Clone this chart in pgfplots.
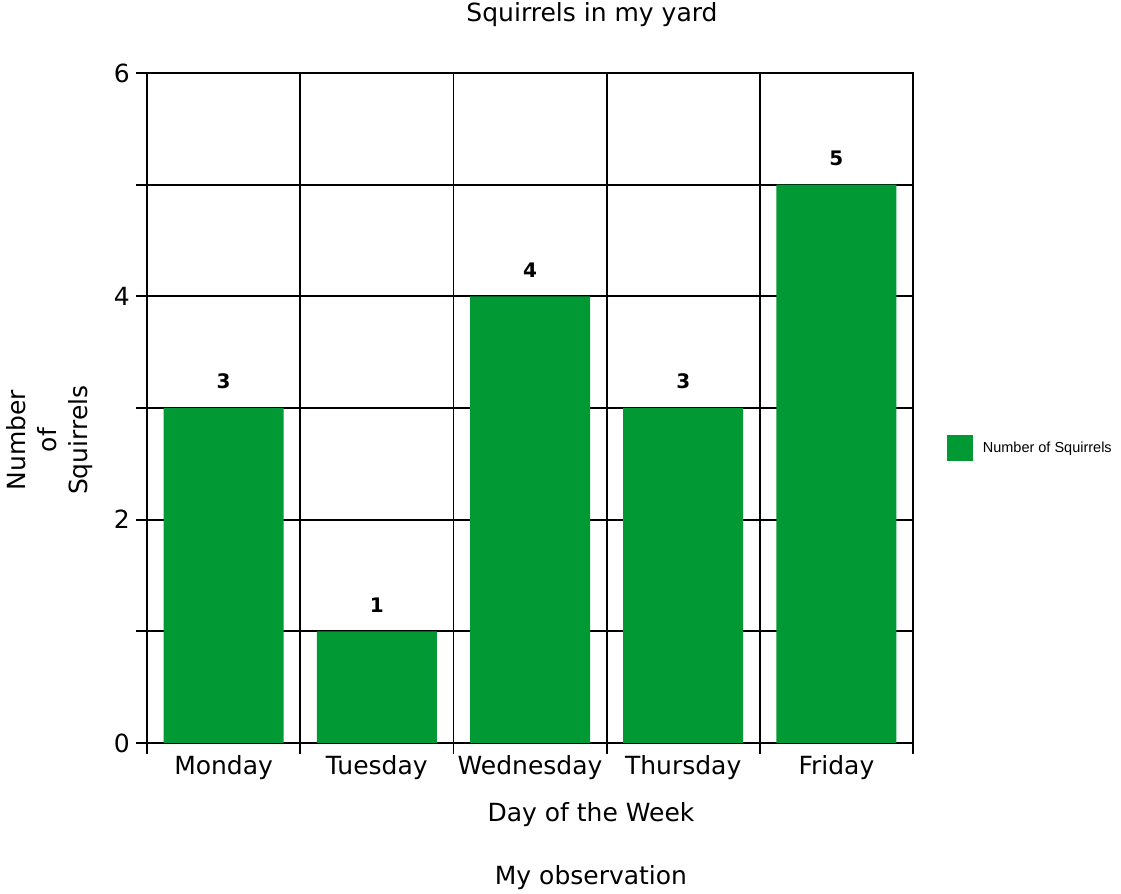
\documentclass[border=0pt]{standalone}
\usepackage{pgfplots}
\pgfplotsset{compat=1.18}
\usepackage{fontspec}
\setmainfont{DejaVu Sans}
\newfontfamily\legfont{Liberation Sans}
\definecolor{bargreen}{RGB}{0,153,51}
\begin{document}
\begin{tikzpicture}[x=1bp,y=1bp]
\useasboundingbox (0,0) rectangle (1121,894);
\begin{axis}[
  at={(147bp,151bp)}, anchor=south west,
  width=766bp, height=670bp, scale only axis,
  xmin=-0.5, xmax=4.5, ymin=0, ymax=6,
  /pgf/number format/assume math mode=true,
  font=\fontsize{25bp}{31bp}\selectfont,
  axis line style={line width=1.8bp, black},
  every tick/.style={line width=1.8bp, black},
  grid style={line width=1.8bp, black},
  major grid style={line width=1.8bp, black},
  tick align=outside, major tick length=11bp,
  xtick pos=bottom, ytick pos=left,
  xtick={-0.5,0.5,1.5,2.5,3.5,4.5}, xticklabels={},
  xmajorgrids,
  extra x ticks={0,1,2,3,4},
  extra x tick labels={Monday,Tuesday,Wednesday,Thursday,Friday},
  extra x tick style={major tick length=0pt, xmajorgrids=false,
     tick label style={inner sep=0pt, anchor=north, yshift=-12bp}},
  ytick={0,1,2,3,4,5,6}, yticklabels={0,,2,,4,,6},
  ymajorgrids,
  yticklabel style={inner sep=0pt, anchor=east, xshift=-6bp},
  ylabel={Number\\of\\Squirrels},
  ylabel style={align=center, at={(axis description cs:-0.127,0.452)}, anchor=center},
  legend style={at={(1.040,0.44)}, anchor=west, draw=none, fill=none,
     font=\legfont\fontsize{14.5bp}{16bp}\selectfont, legend cell align=left},
  nodes near coords,
  nodes near coords style={font=\bfseries\fontsize{20bp}{24bp}\selectfont, inner sep=0pt, anchor=south, yshift=19bp},
]
\addplot[ybar, bar width=120bp, bar shift=0pt, fill=bargreen, draw=none,
  legend image code/.code={\fill[bargreen] (0bp,-13bp) rectangle (26bp,13bp);}]
  coordinates {(0,3) (1,1) (2,4) (3,3) (4,5)};
\addlegendentry{\hspace{8bp}Number of Squirrels}
\end{axis}
\node[font=\fontsize{25bp}{31bp}\selectfont] at (592,879) {Squirrels in my yard};
\node[font=\fontsize{25bp}{31bp}\selectfont] at (591,79) {Day of the Week};
\node[font=\fontsize{25bp}{31bp}\selectfont] at (591,16) {My observation};
\end{tikzpicture}
\end{document}
